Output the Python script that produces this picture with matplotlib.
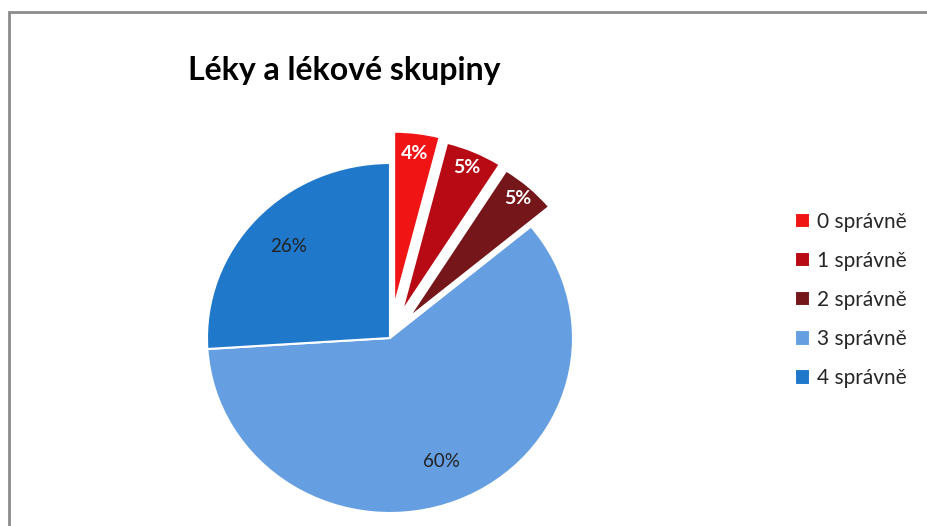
import numpy as np
import matplotlib.pyplot as plt
from matplotlib.patches import Rectangle

labels = ['0 správně', '1 správně', '2 správně', '3 správně', '4 správně']
values = [4, 5, 5, 60, 26]
colors = ['#F01414', '#B80A14', '#74161A', '#659FE2', '#1F78CA']
explode = [0.18, 0.16, 0.15, 0, 0]
text_colors = ['white', 'white', 'white', '#222222', '#222222']

plt.rcParams['font.family'] = ['Lato', 'DejaVu Sans']

fig = plt.figure(figsize=(9.28, 5.26), dpi=100)
W, H = 928, 526

# grey chart frame (left and top edges visible)
fig.patches.append(Rectangle((9 / W, -0.1), 1.2, (H - 12) / H + 0.1,
                             transform=fig.transFigure, fill=False,
                             edgecolor='#8c8c8c', linewidth=2))

# slightly tilted pie: horizontal radius 183 px, vertical 175 px
cx, cy, rx, ry = 390, H - 338, 183, 175
ax = fig.add_axes([(cx - 1.25 * rx) / W, (cy - 1.25 * ry) / H,
                   2.5 * rx / W, 2.5 * ry / H])

wedges, texts, autotexts = ax.pie(values, colors=colors, explode=explode,
                                  startangle=90, counterclock=False,
                                  autopct='%d%%', pctdistance=0.76,
                                  wedgeprops={'edgecolor': 'white', 'linewidth': 1.5},
                                  textprops={'fontsize': 13.5})
ax.set_aspect('auto')
ax.set_xlim(-1.25, 1.25)
ax.set_ylim(-1.25, 1.25)

for i, (w, t) in enumerate(zip(wedges, autotexts)):
    t.set_color(text_colors[i])
    if explode[i] > 0:
        ang = np.deg2rad((w.theta1 + w.theta2) / 2)
        d = 1.06
        t.set_position((d * np.cos(ang), d * np.sin(ang)))
        t.set_fontsize(14)
        t.set_fontweight('bold')

fig.text(188 / W, 1 - 80 / H, 'Léky a lékové skupiny', fontsize=23,
         fontweight='bold', va='baseline', ha='left')

leg = fig.legend(wedges, labels, loc='center left',
                 bbox_to_anchor=(776 / W, 1 - 300 / H), frameon=False,
                 fontsize=15, handlelength=0.75, handleheight=0.75,
                 handletextpad=0.3, labelspacing=0.92)
for t in leg.get_texts():
    t.set_color('#262626')

fig.savefig('out.png', dpi=100, facecolor='white')
